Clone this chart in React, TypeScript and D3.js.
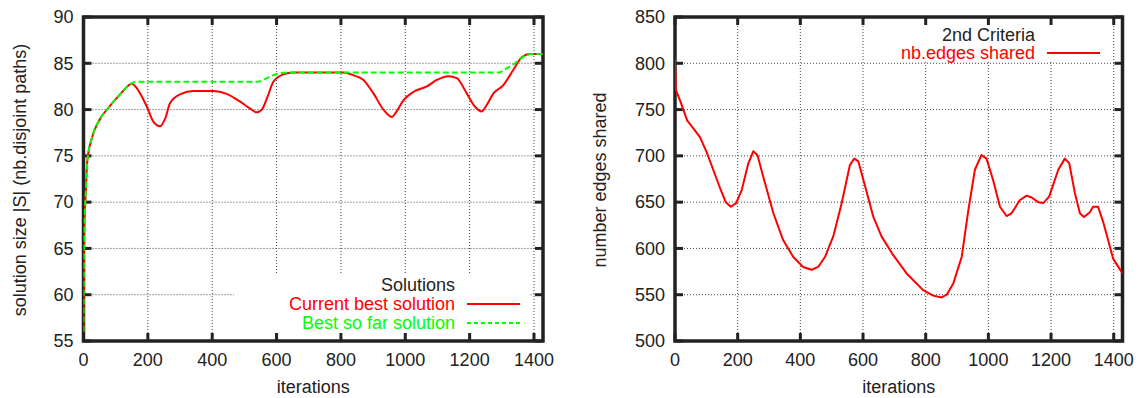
import React, { useEffect, useRef } from 'react';
import * as d3 from 'd3';

// left panel: solution size over iterations
const SOL_ITER = [0, 2, 6, 12, 25, 50, 80, 110, 140, 150, 166, 197, 217, 238, 254, 269, 300, 342, 404, 445, 487, 518, 538, 554, 570, 590, 621, 653, 808, 839, 870, 901, 932, 958, 973, 994, 1025, 1067, 1098, 1134, 1160, 1191, 1217, 1237, 1253, 1274, 1305, 1336, 1362, 1387, 1428];
const SOL_CURRENT = [56, 66.7, 70.2, 74.5, 76.8, 78.9, 80.3, 81.5, 82.6, 82.8, 82.3, 80.3, 78.7, 78.2, 79.05, 80.7, 81.65, 82.0, 82.0, 81.7, 80.85, 80.1, 79.7, 80.0, 81.2, 83.0, 83.8, 84.0, 84.0, 83.7, 83.2, 81.75, 80.0, 79.2, 79.8, 81.0, 81.9, 82.5, 83.2, 83.6, 83.4, 81.75, 80.3, 79.8, 80.5, 81.75, 82.65, 84.3, 85.65, 86.0, 86.0];
const BEST_ITER = [0, 2, 6, 12, 25, 50, 80, 110, 140, 150, 165, 540, 570, 600, 632, 1290, 1315, 1341, 1367, 1390, 1428];
const BEST_SO_FAR = [56, 66.7, 70.2, 74.5, 76.8, 78.9, 80.3, 81.5, 82.6, 82.85, 83.0, 83.0, 83.4, 83.85, 84.0, 84.0, 84.45, 85.0, 85.7, 86.0, 86.0];

// right panel: edges shared
const EDGE_ITER = [0, 3, 16, 39, 58, 80, 101, 122, 144, 162, 178, 195, 213, 234, 250, 263, 282, 314, 345, 377, 409, 436, 457, 479, 505, 532, 558, 572, 585, 606, 633, 659, 696, 739, 792, 824, 851, 867, 888, 915, 936, 957, 978, 994, 1015, 1037, 1058, 1074, 1100, 1122, 1138, 1159, 1175, 1194, 1223, 1244, 1258, 1276, 1292, 1305, 1324, 1334, 1350, 1366, 1382, 1398, 1428];
const EDGES_SHARED = [804, 771, 760, 738, 730, 720, 704, 685, 665, 650, 645, 649, 663, 692, 705, 701, 677, 638, 609, 591, 580, 577, 580, 591, 613, 649, 690, 697, 694, 668, 634, 613, 593, 573, 555, 549, 547, 550, 562, 591, 641, 685, 701, 697, 674, 645, 635, 638, 652, 657, 655, 650, 649, 656, 685, 697, 692, 660, 638, 634, 639, 645, 645, 629, 609, 589, 573];

const X_TICKS = [0, 200, 400, 600, 800, 1000, 1200, 1400];
const LEFT_Y_TICKS = [55, 60, 65, 70, 75, 80, 85, 90];
const RIGHT_Y_TICKS = [500, 550, 600, 650, 700, 750, 800, 850];

const FONT = '"Liberation Sans", Arial, Helvetica, sans-serif';
const INK = '#222';

interface PanelOpts {
  id: string;
  left: number;
  right: number;
  yDomain: [number, number];
  yTicks: number[];
  yTitle: string;
  yTitleX: number;
  legendBox: { x: number; y: number; w: number; h: number };
}

const App: React.FC = () => {
  const svgRef = useRef<SVGSVGElement>(null);

  useEffect(() => {
    if (!svgRef.current) return;
    const svg = d3.select(svgRef.current);
    svg.selectAll('*').remove();

    const top = 17;
    const bottom = 341;

    const drawPanel = (o: PanelOpts) => {
      const x = d3.scaleLinear().domain([0, 1428]).range([o.left, o.right]);
      const y = d3.scaleLinear().domain(o.yDomain).range([bottom, top]);
      const g = svg.append('g');

      // grid
      X_TICKS.filter(t => t > 0).forEach(t => {
        g.append('line')
          .attr('x1', x(t)).attr('x2', x(t))
          .attr('y1', top).attr('y2', bottom)
          .attr('stroke', '#444').attr('stroke-width', 1)
          .attr('stroke-dasharray', '1,2');
      });
      o.yTicks.slice(1, -1).forEach(t => {
        g.append('line')
          .attr('x1', o.left).attr('x2', o.right)
          .attr('y1', y(t)).attr('y2', y(t))
          .attr('stroke', '#444').attr('stroke-width', 1)
          .attr('stroke-dasharray', '1,2');
      });

      // key box hides the grid behind it
      g.append('rect')
        .attr('x', o.legendBox.x).attr('y', o.legendBox.y)
        .attr('width', o.legendBox.w).attr('height', o.legendBox.h)
        .attr('fill', '#fff');

      g.append('clipPath').attr('id', `clip-${o.id}`)
        .append('rect')
        .attr('x', o.left).attr('y', top)
        .attr('width', o.right - o.left).attr('height', bottom - top);

      // frame + mirrored ticks
      g.append('rect')
        .attr('x', o.left).attr('y', top)
        .attr('width', o.right - o.left).attr('height', bottom - top)
        .attr('fill', 'none').attr('stroke', INK).attr('stroke-width', 3.5);

      X_TICKS.forEach(t => {
        [[bottom, bottom - 8], [top, top + 8]].forEach(([a, b]) => {
          g.append('line')
            .attr('x1', x(t)).attr('x2', x(t)).attr('y1', a).attr('y2', b)
            .attr('stroke', INK).attr('stroke-width', 3);
        });
        g.append('text')
          .attr('x', x(t)).attr('y', 360).attr('dy', '0.35em')
          .attr('text-anchor', 'middle')
          .style('font-family', FONT).style('font-size', '18px').style('fill', INK)
          .text(t);
      });
      o.yTicks.forEach(t => {
        [[o.left, o.left + 8], [o.right, o.right - 8]].forEach(([a, b]) => {
          g.append('line')
            .attr('x1', a).attr('x2', b).attr('y1', y(t)).attr('y2', y(t))
            .attr('stroke', INK).attr('stroke-width', 3);
        });
        g.append('text')
          .attr('x', o.left - 10).attr('y', y(t)).attr('dy', '0.35em')
          .attr('text-anchor', 'end')
          .style('font-family', FONT).style('font-size', '18px').style('fill', INK)
          .text(t);
      });

      // axis titles
      g.append('text')
        .attr('x', (o.left + o.right) / 2).attr('y', 387).attr('dy', '0.35em')
        .attr('text-anchor', 'middle')
        .style('font-family', FONT).style('font-size', '18px').style('fill', INK)
        .text('iterations');
      g.append('text')
        .attr('transform', `translate(${o.yTitleX}, ${(top + bottom) / 2 + 1}) rotate(-90)`)
        .attr('dy', '0.35em')
        .attr('text-anchor', 'middle')
        .style('font-family', FONT).style('font-size', '18px').style('fill', INK)
        .text(o.yTitle);

      return { x, y, g, clip: `url(#clip-${o.id})` };
    };

    // ---- left panel
    const L = drawPanel({
      id: 'left', left: 83.5, right: 543,
      yDomain: [55, 90], yTicks: LEFT_Y_TICKS,
      yTitle: 'solution size |S| (nb.disjoint paths)', yTitleX: 20,
      legendBox: { x: 234, y: 274, w: 296, h: 66 }
    });
    const smooth = d3.line<[number, number]>()
      .x(d => L.x(d[0])).y(d => L.y(d[1]))
      .curve(d3.curveMonotoneX);
    L.g.append('path')
      .datum(SOL_ITER.map((it, i) => [it, SOL_CURRENT[i]] as [number, number]))
      .attr('d', smooth)
      .attr('clip-path', L.clip)
      .attr('fill', 'none').attr('stroke', '#ff0000').attr('stroke-width', 2);
    L.g.append('path')
      .datum(BEST_ITER.map((it, i) => [it, BEST_SO_FAR[i]] as [number, number]))
      .attr('d', smooth)
      .attr('clip-path', L.clip)
      .attr('fill', 'none').attr('stroke', '#00ff00').attr('stroke-width', 2)
      .attr('stroke-dasharray', '6,3');

    const legendL = [
      { label: 'Solutions', color: INK, y: 285, dash: null as string | null, line: false },
      { label: 'Current best solution', color: '#ff0000', y: 304, dash: null, line: true },
      { label: 'Best so far solution', color: '#00ff00', y: 323, dash: '4,3', line: true }
    ];
    legendL.forEach(d => {
      L.g.append('text')
        .attr('x', 455).attr('y', d.y).attr('dy', '0.35em')
        .attr('text-anchor', 'end')
        .style('font-family', FONT).style('font-size', '18px').style('fill', d.color)
        .text(d.label);
      if (d.line) {
        L.g.append('line')
          .attr('x1', 467).attr('x2', 520).attr('y1', d.y).attr('y2', d.y)
          .attr('stroke', d.color).attr('stroke-width', 2)
          .attr('stroke-dasharray', d.dash);
      }
    });

    // ---- right panel
    const R = drawPanel({
      id: 'right', left: 675, right: 1122.5,
      yDomain: [500, 850], yTicks: RIGHT_Y_TICKS,
      yTitle: 'number edges shared', yTitleX: 600,
      legendBox: { x: 872, y: 18, w: 238, h: 43 }
    });
    const poly = d3.line<[number, number]>()
      .x(d => R.x(d[0])).y(d => R.y(d[1]));
    R.g.append('path')
      .datum(EDGE_ITER.map((it, i) => [it, EDGES_SHARED[i]] as [number, number]))
      .attr('d', poly)
      .attr('clip-path', R.clip)
      .attr('fill', 'none').attr('stroke', '#ff0000').attr('stroke-width', 2)
      .attr('stroke-linejoin', 'round');

    R.g.append('text')
      .attr('x', 1035).attr('y', 35).attr('dy', '0.35em')
      .attr('text-anchor', 'end')
      .style('font-family', FONT).style('font-size', '18px').style('fill', INK)
      .text('2nd Criteria');
    R.g.append('text')
      .attr('x', 1035).attr('y', 53).attr('dy', '0.35em')
      .attr('text-anchor', 'end')
      .style('font-family', FONT).style('font-size', '18px').style('fill', '#ff0000')
      .text('nb.edges shared');
    R.g.append('line')
      .attr('x1', 1047).attr('x2', 1100).attr('y1', 53).attr('y2', 53)
      .attr('stroke', '#ff0000').attr('stroke-width', 2);
  }, []);

  return (
    <div style={{ position: 'absolute', left: 0, top: 0 }}>
      <svg ref={svgRef} width={1141} height={398} style={{ display: 'block', background: '#fff' }} />
    </div>
  );
};

export default App;
